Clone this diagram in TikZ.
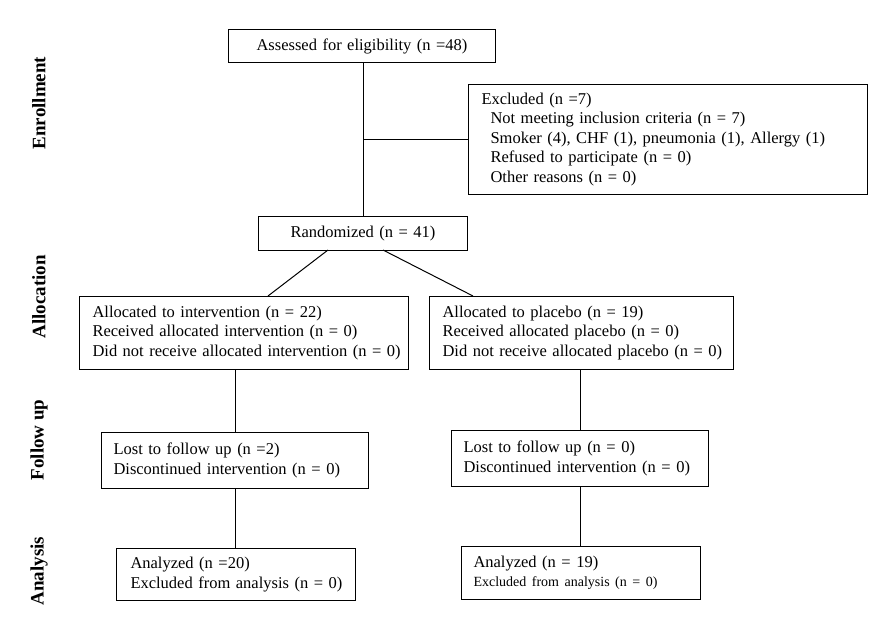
\documentclass[tikz,border=0pt]{standalone}
\usepackage{fontspec}
\setmainfont{Liberation Serif}
\newcommand{\boxline}[1]{\mbox{#1}}
\begin{document}
\begin{tikzpicture}[x=1pt,y=-1pt,
  box/.style={draw, line width=1pt, anchor=north west, align=left, inner ysep=0pt,
    font=\fontsize{16.5}{19.5}\selectfont},
  cbox/.style={box, align=center},
  conn/.style={line width=1pt},
  side/.style={rotate=90, font=\fontsize{19}{22}\selectfont\bfseries}]
\useasboundingbox (0,0) rectangle (889,637);
% side labels
\node[side] (lenr) at (39,103) {Enrollment};
\node[side] (lall) at (39,297) {Allocation};
\node[side] (lfol) at (39,440) {Follow up};
\node[side] (lana) at (39,571) {Analysis};
% boxes
\node[cbox, inner xsep=5pt, text width=257pt, minimum height=33pt] (assess) at (228,29)
  {\boxline{Assessed for eligibility (n =48)}};
\node[box, inner xsep=13pt, text width=373pt, minimum height=110pt] (excl) at (468,84)
  {\boxline{Excluded (n =7)}\\
   \boxline{\hspace*{9pt}Not meeting inclusion criteria (n = 7)}\\
   \boxline{\hspace*{9pt}Smoker (4), CHF (1), pneumonia (1), Allergy (1)}\\
   \boxline{\hspace*{9pt}Refused to participate (n = 0)}\\
   \boxline{\hspace*{9pt}Other reasons (n = 0)}};
\node[cbox, inner xsep=5pt, text width=199pt, minimum height=34pt] (rand) at (258,216)
  {\boxline{Randomized (n = 41)}};
\node[box, inner xsep=13pt, text width=303pt, minimum height=73pt] (alloc1) at (79,296)
  {\boxline{Allocated to intervention (n = 22)}\\
   \boxline{Received allocated intervention (n = 0)}\\
   \boxline{Did not receive allocated intervention (n = 0)}};
\node[box, inner xsep=13pt, text width=278pt, minimum height=73pt] (alloc2) at (429,296)
  {\boxline{Allocated to placebo (n = 19)}\\
   \boxline{Received allocated placebo (n = 0)}\\
   \boxline{Did not receive allocated placebo (n = 0)}};
\node[box, inner xsep=12pt, text width=243pt, minimum height=56pt] (lost1) at (101,432)
  {\boxline{Lost to follow up (n =2)}\\
   \boxline{Discontinued intervention (n = 0)}};
\node[box, inner xsep=12pt, text width=233pt, minimum height=56pt] (lost2) at (451,430)
  {\boxline{Lost to follow up (n = 0)}\\
   \boxline{Discontinued intervention (n = 0)}};
\node[box, inner xsep=14pt, text width=211pt, minimum height=52pt] (an1) at (116,548)
  {\boxline{Analyzed (n =20)}\\
   \boxline{Excluded from analysis (n = 0)}};
\node[box, inner xsep=12pt, text width=215pt, minimum height=53pt] (an2) at (461,546)
  {\boxline{Analyzed (n = 19)}\\
   \boxline{\fontsize{14}{17}\selectfont Excluded from analysis (n = 0)}};
% connectors
\coordinate (top) at (363,62);
\coordinate (br) at (363,139);
\coordinate (rL) at (328,250);
\coordinate (rR) at (383,250);
\coordinate (aL) at (268,296);
\coordinate (aR) at (473,296);
\draw[conn] (top) -- (top |- rand.north);
\draw[conn] (br) -- (excl.west |- br);
\draw[conn] (rL) -- (aL);
\draw[conn] (rR) -- (aR);
\draw[conn] (lost1.north |- alloc1.south) -- (lost1.north);
\draw[conn] (lost1.south) -- (lost1.south |- an1.north);
\draw[conn] (lost2.north |- alloc2.south) -- (lost2.north);
\draw[conn] (lost2.south) -- (lost2.south |- an2.north);
\end{tikzpicture}
\end{document}
